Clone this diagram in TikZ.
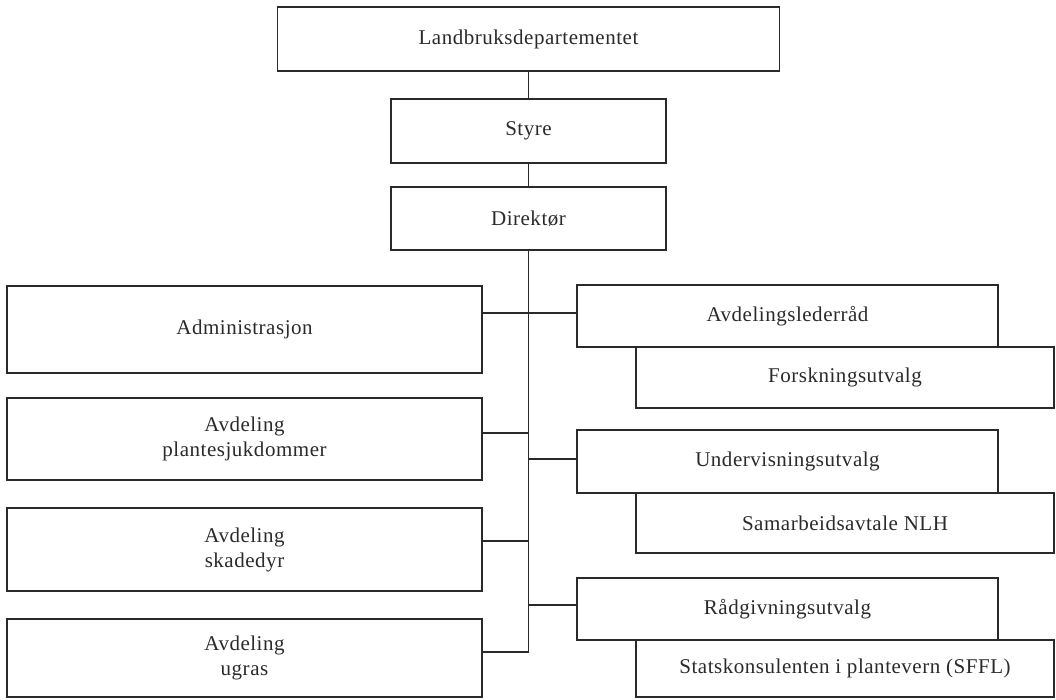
\documentclass[tikz,border=0pt]{standalone}
\usepackage{fontspec}
\setmainfont[LetterSpace=2.5]{Liberation Serif}
\definecolor{ink}{HTML}{2A2A2A}
\begin{document}
\begin{tikzpicture}[x=1pt,y=-1pt,
  box/.style={draw=ink, line width=1.1pt, rectangle, inner sep=0pt, outer sep=0pt,
    text=ink, font=\fontsize{21}{25}\selectfont, align=center},
  conn/.style={draw=ink, line width=1.1pt}]
\useasboundingbox (0,0) rectangle (1056,700);
% top chain
\node[box, minimum width=502pt, minimum height=64pt] (land) at (528.5,39) {Landbruksdepartementet};
\node[box, minimum width=275pt, minimum height=64pt] (styre) at (528.5,131) {Styre};
\node[box, minimum width=275pt, minimum height=63pt] (dir) at (528.5,218.5) {Direktør};
% left column
\node[box, minimum width=475pt, minimum height=87pt] (adm) at (244.5,329.5) {Administrasjon};
\node[box, minimum width=475pt, minimum height=82pt] (plan) at (244.5,439) {Avdeling\\plantesjukdommer};
\node[box, minimum width=475pt, minimum height=83pt] (skad) at (244.5,549.5) {Avdeling\\skadedyr};
\node[box, minimum width=475pt, minimum height=78pt] (ugras) at (244.5,658) {Avdeling\\ugras};
% right column
\node[box, minimum width=418pt, minimum height=61pt] (fors) at (845,377.5) {Forskningsutvalg};
\node[box, minimum width=421pt, minimum height=62pt] (avd) at (787.5,316) {Avdelingslederråd};
\node[box, minimum width=418pt, minimum height=60pt] (samarb) at (845,523) {Samarbeidsavtale NLH};
\node[box, minimum width=421pt, minimum height=63pt] (underv) at (787.5,461.5) {Undervisningsutvalg};
\node[box, minimum width=418pt, minimum height=57pt] (stats) at (845,668.5) {Statskonsulenten i plantevern (SFFL)};
\node[box, minimum width=421pt, minimum height=62pt] (radg) at (787.5,609) {Rådgivningsutvalg};
% spine junctions
\coordinate (j1) at (528.5,313);
\coordinate (j2) at (528.5,433);
\coordinate (j3) at (528.5,459);
\coordinate (j4) at (528.5,541);
\coordinate (j5) at (528.5,605);
\coordinate (j6) at (528.5,652);
% connectors
\draw[conn] (land.south) -- (styre.north);
\draw[conn] (styre.south) -- (dir.north);
\draw[conn] (dir.south) -- (j6);
\draw[conn] (j1 -| adm.east) -- (j1) -- (j1 -| avd.west);
\draw[conn] (j2 -| plan.east) -- (j2);
\draw[conn] (j3) -- (j3 -| underv.west);
\draw[conn] (j4 -| skad.east) -- (j4);
\draw[conn] (j5) -- (j5 -| radg.west);
\draw[conn] (j6 -| ugras.east) -- (j6);
\end{tikzpicture}
\end{document}
